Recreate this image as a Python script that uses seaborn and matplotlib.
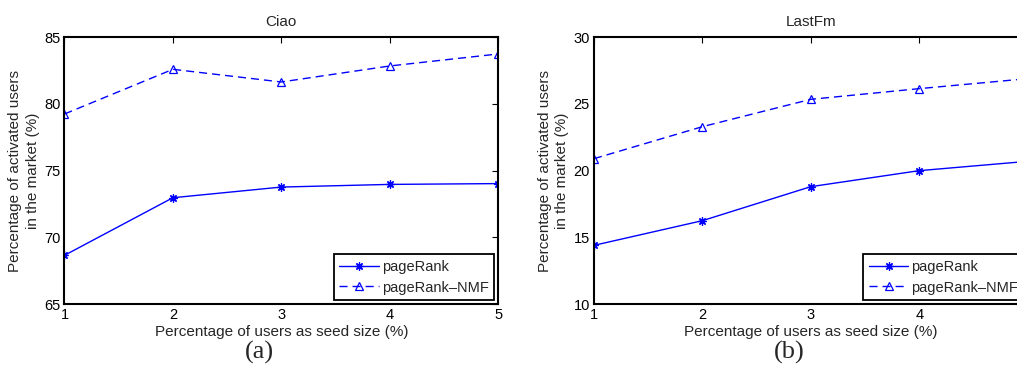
import matplotlib
matplotlib.use("Agg")
import matplotlib.pyplot as plt
import seaborn as sns
import pandas as pd

seed_sizes = [1, 2, 3, 4, 5]

ciao_pagerank = [68.65, 72.97, 73.77, 73.97, 74.03]
ciao_pagerank_nmf = [79.25, 82.6, 81.65, 82.85, 83.75]

lastfm_pagerank = [14.4, 16.25, 18.8, 20.0, 20.7]
lastfm_pagerank_nmf = [20.9, 23.3, 25.35, 26.15, 26.9]

titles = ["Ciao", "LastFm"]
captions = ["(a)", "(b)"]
y_limits = [(65, 85), (10, 30)]
y_ticks = [[65, 70, 75, 80, 85], [10, 15, 20, 25, 30]]
series_names = ["pageRank", "pageRank\u2013NMF"]

sns.set_theme(style="white")
plt.rcParams["font.family"] = ["Liberation Sans", "DejaVu Sans"]
plt.rcParams["axes.edgecolor"] = "black"

fig = plt.figure(figsize=(10.17, 3.75), dpi=100)
ax_left = fig.add_axes([0.0634, 0.1893, 0.4263, 0.7112])
ax_right = fig.add_axes([0.5841, 0.1893, 0.4263, 0.7112])

panels = [
    (ax_left, ciao_pagerank, ciao_pagerank_nmf),
    (ax_right, lastfm_pagerank, lastfm_pagerank_nmf),
]

asterisk = (8, 2, 0)

for i, (ax, pr, nmf) in enumerate(panels):
    df = pd.DataFrame({"seed": seed_sizes, "pr": pr, "nmf": nmf})
    sns.lineplot(data=df, x="seed", y="pr", ax=ax, color="#0000ff",
                 linewidth=1.0, marker=asterisk, markersize=6,
                 markeredgecolor="#0000ff", markerfacecolor="#0000ff",
                 markeredgewidth=0.9, label=series_names[0])
    sns.lineplot(data=df, x="seed", y="nmf", ax=ax, color="#0000ff",
                 linewidth=1.0, linestyle=(0, (5.8, 3.6)), marker="^",
                 markersize=6, markeredgecolor="#0000ff",
                 markerfacecolor="none", markeredgewidth=0.9,
                 label=series_names[1])

    ax.set_xlim(1, 5)
    ax.set_ylim(*y_limits[i])
    ax.set_xticks(seed_sizes)
    ax.set_yticks(y_ticks[i])
    ax.tick_params(direction="in", length=4, width=0.8, top=True,
                   right=True, labelsize=10.5, pad=3, colors="black",
                   labelcolor="black")
    for sp in ax.spines.values():
        sp.set_linewidth(1.5)
        sp.set_color("black")
        sp.set_visible(True)
    ax.set_title(titles[i], fontsize=11, pad=8)
    ax.set_xlabel("Percentage of users as seed size (%)", fontsize=11,
                  labelpad=2)
    ax.set_ylabel("Percentage of activated users\nin the market (%)",
                  fontsize=11, labelpad=3, linespacing=1.3)

    leg = ax.legend(loc="lower right", fontsize=10.5, frameon=True,
                    fancybox=False, borderpad=0.4, handlelength=2.7,
                    handletextpad=0.2, labelspacing=0.45,
                    borderaxespad=0.25)
    leg.get_frame().set_edgecolor("black")
    leg.get_frame().set_linewidth(1.3)
    leg.get_frame().set_alpha(1)

fig.text(259 / 1017, 0.061, captions[0], fontsize=19,
         family="Liberation Serif", ha="center", va="center")
fig.text(789 / 1017, 0.061, captions[1], fontsize=19,
         family="Liberation Serif", ha="center", va="center")

fig.savefig("out.png", dpi=100)
